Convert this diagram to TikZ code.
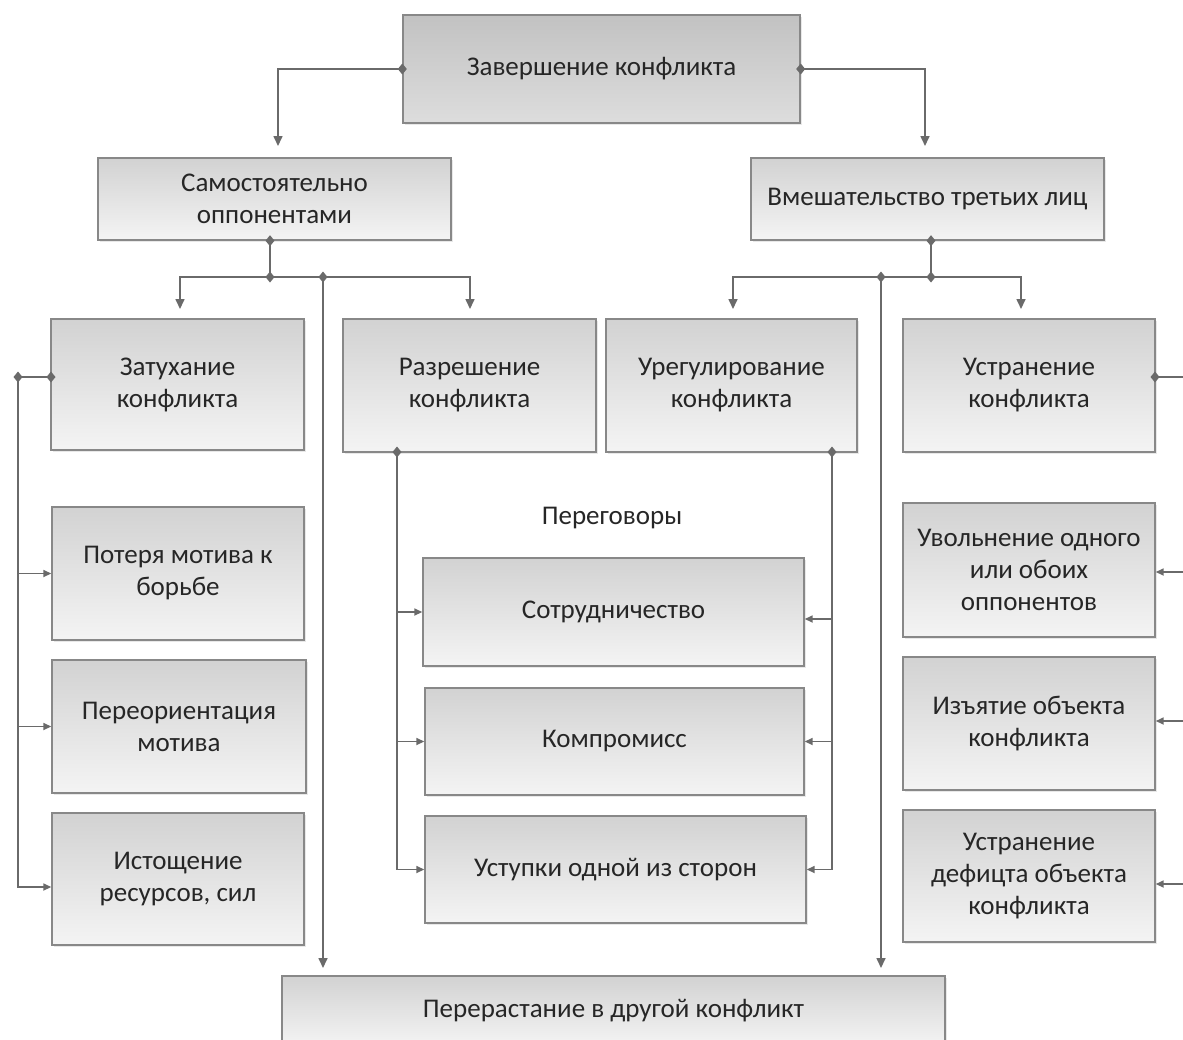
\documentclass[tikz,border=0pt]{standalone}
\usepackage{fontspec}
\setmainfont{Carlito}
\usetikzlibrary{arrows.meta,shadows,calc}
\definecolor{linec}{HTML}{6A6A6A}
\definecolor{boxtop}{HTML}{D2D2D2}
\definecolor{boxbot}{HTML}{F4F4F4}
\definecolor{topboxtop}{HTML}{C2C2C2}
\definecolor{topboxbot}{HTML}{DDDDDD}
\definecolor{bordc}{HTML}{888888}
\definecolor{txtc}{HTML}{262626}
\newcommand{\dia}[1]{\fill[linec] (#1) +(0,-5.5) -- +(4.5,0) -- +(0,5.5) -- +(-4.5,0) -- cycle;}
\begin{document}
\begin{tikzpicture}[x=1pt,y=-1pt,
 box/.style={draw=bordc, line width=1.4pt, top color=boxtop, bottom color=boxbot,
   align=center, text=txtc, font=\fontsize{27}{32}\selectfont, inner sep=2pt,
   drop shadow={opacity=0.18, shadow xshift=2pt, shadow yshift=-2pt}},
 topbox/.style={top color=topboxtop, bottom color=topboxbot},
 conn/.style={draw=linec, line width=1.6pt},
 arr/.style={conn, -{Triangle[length=10pt,width=9pt]}},
 sarr/.style={conn, -{Triangle[length=8pt,width=7pt]}},
 lbl/.style={text=txtc, font=\fontsize{27}{32}\selectfont}
]
\clip (0,0) rectangle (1183,1039);
\fill[white] (0,0) rectangle (1183,1039);

% boxes
\node[box,topbox,minimum width=397pt,minimum height=108pt] (top) at (601.5,69) {Завершение конфликта};
\node[box,minimum width=353pt,minimum height=82pt] (samo) at (274.5,199) {Самостоятельно\\оппонентами};
\node[box,minimum width=353pt,minimum height=82pt] (vmesh) at (927.5,199) {Вмешательство третьих лиц};

\node[box,minimum width=253pt,minimum height=131pt] (zat) at (177.5,384.5) {Затухание\\конфликта};
\node[box,minimum width=253pt,minimum height=133pt] (razr) at (469.5,385.5) {Разрешение\\конфликта};
\node[box,minimum width=251pt,minimum height=133pt] (ureg) at (731.5,385.5) {Урегулирование\\конфликта};
\node[box,minimum width=252pt,minimum height=133pt] (ustr) at (1029,385.5) {Устранение\\конфликта};

\node[box,minimum width=252pt,minimum height=133pt] (poter) at (178,573.5) {Потеря мотива к\\борьбе};
\node[box,minimum width=254pt,minimum height=133pt] (pereor) at (179,726.5) {Переориентация\\мотива};
\node[box,minimum width=252pt,minimum height=132pt] (istosh) at (178,879) {Истощение\\ресурсов, сил};

\node[lbl] (negot) at (612,518) {Переговоры};
\node[box,minimum width=381pt,minimum height=108pt] (sotr) at (613.5,612) {Сотрудничество};
\node[box,minimum width=379pt,minimum height=107pt] (komp) at (614.5,741.5) {Компромисс};
\node[box,minimum width=381pt,minimum height=107pt] (ustup) at (615.5,869.5) {Уступки одной из сторон};

\node[box,minimum width=252pt,minimum height=134pt] (uvol) at (1029,570) {Увольнение одного\\или обоих\\оппонентов};
\node[box,minimum width=252pt,minimum height=133pt] (izyat) at (1029,723.5) {Изъятие объекта\\конфликта};
\node[box,minimum width=252pt,minimum height=132pt] (ustrdef) at (1029,876) {Устранение\\дефицта объекта\\конфликта};

\node[box,minimum width=663pt,minimum height=70pt] (perer) at (613.5,1011) {\raisebox{4pt}{Перерастание в другой конфликт}};

% coordinates
\coordinate (a1) at (278,146);
\coordinate (a2) at (925,146);
\coordinate (j1) at (270,277);
\coordinate (j1b) at (323,277);
\coordinate (a3) at (180,309);
\coordinate (a4) at (470,309);
\coordinate (a7) at (323,968);
\coordinate (j2) at (931,277);
\coordinate (j2b) at (881,277);
\coordinate (a5) at (733,309);
\coordinate (a6) at (1021,309);
\coordinate (a8) at (881,968);
\coordinate (z0) at (51,377);
\coordinate (zL) at (18,377);
\coordinate (r0) at (397,452);
\coordinate (u0) at (832,452);
\coordinate (s0) at (1155,377);
\coordinate (sR) at (1190,377);

% top level
\draw[arr] (top.west) -| (a1);
\draw[arr] (top.east) -| (a2);
\dia{top.west}
\dia{top.east}

% left branch
\draw[conn] (samo.south -| j1) -- (j1);
\draw[arr] (j1) -| (a3);
\draw[arr] (j1) -| (a4);
\draw[arr] (j1b) -- (a7);
\dia{samo.south -| j1}
\dia{j1}
\dia{j1b}

% right branch
\draw[conn] (vmesh.south -| j2) -- (j2);
\draw[arr] (j2) -| (a5);
\draw[arr] (j2) -| (a6);
\draw[arr] (j2b) -- (a8);
\dia{vmesh.south -| j2}
\dia{j2}
\dia{j2b}

% Затухание
\draw[conn] (z0) -- (zL);
\draw[sarr] (zL) |- (poter.west);
\draw[sarr] (zL) |- (pereor.west);
\draw[sarr] (zL) |- ([yshift=-8pt]istosh.west);
\dia{z0}
\dia{zL}

% Разрешение
\draw[sarr] (r0) |- (sotr.west);
\draw[sarr] (r0) |- (komp.west);
\draw[sarr] (r0) |- (ustup.west);
\dia{r0}

% Урегулирование
\draw[sarr] (u0) |- ([yshift=-7pt]sotr.east);
\draw[sarr] (u0) |- (komp.east);
\draw[sarr] (u0) |- (ustup.east);
\dia{u0}

% Устранение
\draw[conn] (s0) -- (sR);
\draw[sarr] (sR) |- ([yshift=-2pt]uvol.east);
\draw[sarr] (sR) |- ([yshift=2.5pt]izyat.east);
\draw[sarr] (sR) |- ([yshift=-8pt]ustrdef.east);
\dia{s0}
\end{tikzpicture}
\end{document}
